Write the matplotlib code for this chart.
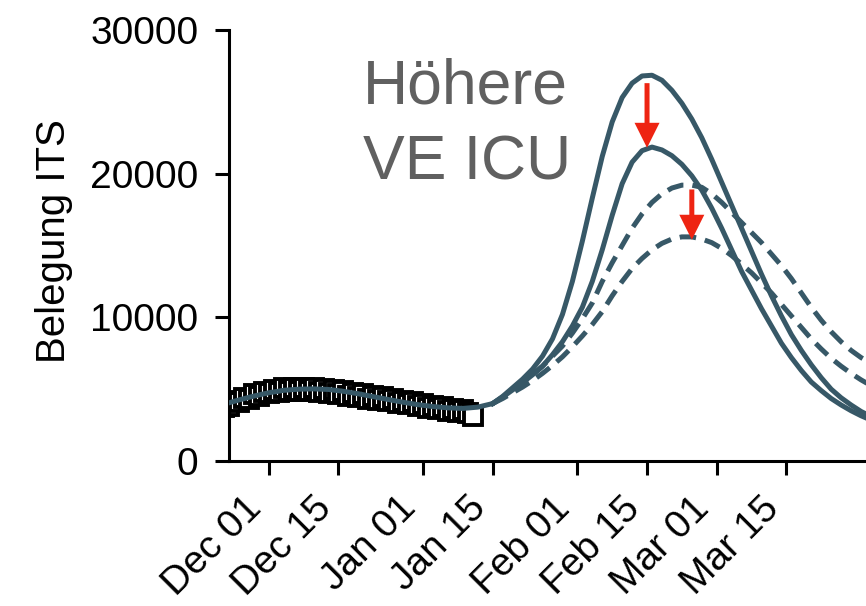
import numpy as np
import pandas as pd
import matplotlib
matplotlib.use("Agg")
import matplotlib.pyplot as plt
import matplotlib.dates as mdates

plt.rcParams['font.family'] = ['Liberation Sans', 'DejaVu Sans']

# ---------------- data ----------------
# observed ICU occupancy (daily), starting 2021-11-21
obs_start = "2021-11-21"
obs_values = [3450, 3750, 3800, 4150, 4100, 4400, 4350, 4650, 4550, 4800,
              4700, 4950, 4800, 5050, 4850, 5100, 4850, 5100, 4850, 5050,
              4800, 5000, 4750, 4950, 4650, 4850, 4550, 4750, 4450, 4650,
              4350, 4550, 4250, 4450, 4150, 4300, 4050, 4200, 3950, 4100,
              3850, 3950, 3700, 3850, 3600, 3750, 3500, 3650, 3400, 3550,
              3350, 3100]

# model fit up to Jan 15 (every 3 days, starting 2021-11-22)
fit_start = "2021-11-22"
fit_values = [3950, 4250, 4520, 4750, 4920, 5000, 5020, 4980, 4850, 4680,
              4480, 4280, 4090, 3920, 3790, 3700, 3660, 3750, 4000]

# scenarios (every 2 days, starting 2022-01-15)
scen_start = "2022-01-15"
solid_high = [4000, 4500, 5100, 5700, 6400, 7300, 8500, 10200, 12500, 15300,
              18300, 21200, 23600, 25300, 26300, 26800, 26850, 26500, 25800,
              24900, 23800, 22500, 21000, 19400, 17800, 16200, 14600, 13000,
              11500, 10100, 8800, 7700, 6700, 5800, 5000, 4400, 3900, 3450,
              3100]
solid_low = [4000, 4450, 4950, 5450, 6000, 6600, 7400, 8300, 9400, 10700,
             12500, 14700, 17100, 19300, 20800, 21600, 21850, 21650, 21250,
             20650, 19850, 18850, 17600, 16200, 14700, 13200, 11900, 10600,
             9400, 8200, 7200, 6300, 5500, 4900, 4350, 3900, 3500, 3150,
             2850]
dashed_high = [4000, 4450, 4950, 5450, 6000, 6600, 7300, 8000, 8900, 9900,
               11000, 12500, 13800, 15000, 16200, 17200, 18000, 18600, 19000,
               19200, 19200, 19050, 18600, 18000, 17300, 16600, 15900, 15200,
               14400, 13600, 12700, 11700, 10700, 9800, 9000, 8300, 7700,
               7200, 6800]
dashed_low = [4000, 4350, 4750, 5150, 5600, 6100, 6650, 7250, 7950, 8700,
              9500, 10400, 11500, 12500, 13400, 14100, 14700, 15150, 15450,
              15600, 15600, 15450, 15200, 14800, 14300, 13700, 13100, 12400,
              11700, 10900, 10100, 9300, 8500, 7800, 7150, 6600, 6100, 5650,
              5250]

# arrows: (date, start value, end value)
arrow_dates = ["2022-02-15", "2022-02-24"]
arrow_from = [26300, 18900]
arrow_to = [21800, 15400]

xtick_dates = ["2021-12-01", "2021-12-15", "2022-01-01", "2022-01-15",
               "2022-02-01", "2022-02-15", "2022-03-01", "2022-03-15"]
yticks = [0, 10000, 20000, 30000]
ylabel = "Belegung ITS"
note = "Höhere\nVE ICU"

# ---------------- plot ----------------
line_col = "#375867"
red = "#ee2412"

fig = plt.figure(figsize=(8.66, 6.06), dpi=100)
ax = fig.add_axes([229/866, (606-461)/606, 1 - 229/866, 431/606])

obs_x = pd.date_range(obs_start, periods=len(obs_values), freq="D")
fit_x = pd.date_range(fit_start, periods=len(fit_values), freq="3D")
scen_x = pd.date_range(scen_start, periods=len(solid_high), freq="2D")

ax.plot(obs_x, obs_values, ls="none", marker="s", ms=13, mew=2.8,
        mec="black", mfc="white", zorder=2)
ax.plot(fit_x, fit_values, color=line_col, lw=3.6, zorder=3,
        solid_capstyle="round", solid_joinstyle="round")
for vals, ls in [(solid_high, "-"), (solid_low, "-"),
                 (dashed_high, "--"), (dashed_low, "--")]:
    kw = dict(color=line_col, lw=3.6, zorder=3, solid_joinstyle="round")
    if ls == "--":
        kw["dashes"] = (3.3, 1.8)
    ax.plot(scen_x, vals, **kw)

for d, y0, y1 in zip(arrow_dates, arrow_from, arrow_to):
    xd = pd.Timestamp(d)
    ax.annotate("", xy=(xd, y1), xytext=(xd, y0),
                arrowprops=dict(arrowstyle="simple,head_length=18,head_width=18,tail_width=3.6",
                                mutation_scale=1, shrinkA=0, shrinkB=0,
                                color=red, lw=0), zorder=4)

ax.text(0.21, 0.652, note, transform=ax.transAxes, fontsize=45,
        color="#606060", ha="left", va="baseline", linespacing=1.39)

ax.set_xlim(pd.Timestamp("2021-11-23"), pd.Timestamp("2022-03-31"))
ax.set_ylim(0, 30000)
ax.set_yticks(yticks)
ax.set_xticks(pd.to_datetime(xtick_dates))
ax.xaxis.set_major_formatter(mdates.DateFormatter("%b %d"))

for s in ["top", "right"]:
    ax.spines[s].set_visible(False)
for s in ["left", "bottom"]:
    ax.spines[s].set_linewidth(2.2)
ax.tick_params(axis="both", width=2.2, length=10)
ax.tick_params(axis="y", pad=12, labelsize=28)
ax.tick_params(axis="x", pad=11, labelsize=28)
plt.setp(ax.get_xticklabels(), rotation=45, ha="right", rotation_mode="default")

ax.set_ylabel(ylabel, fontsize=29)
ax.yaxis.set_label_coords(-0.245, 0.51)

fig.savefig("out.png", dpi=100)
